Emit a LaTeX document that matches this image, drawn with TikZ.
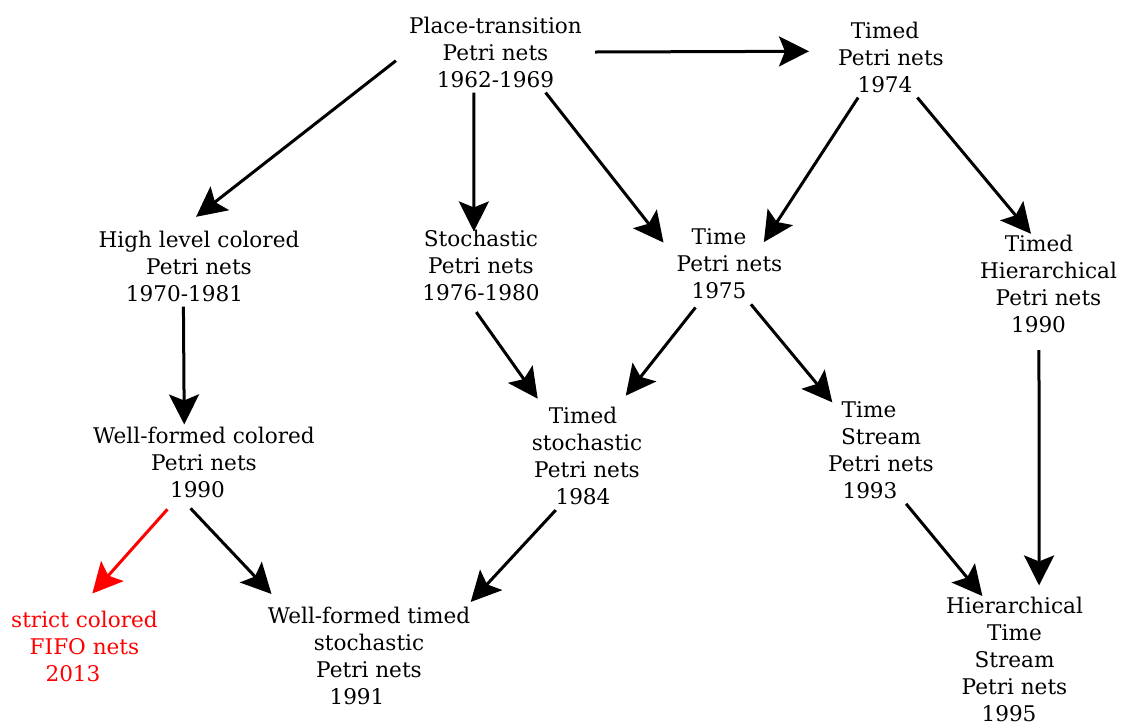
\documentclass[tikz,border=0pt]{standalone}
\usepackage{fontspec}
\setmainfont{DejaVu Serif}
\usetikzlibrary{arrows.meta}
\tikzset{>={Stealth[length=30pt,width=30pt,inset=6pt]}}

\begin{document}
\begin{tikzpicture}[x=1pt,y=-1pt]
  % one pt per pixel of the reference, y grows downwards
  \tikzstyle{every node}=[align=center, font=\fontsize{21.6}{27}\selectfont, inner xsep=13pt, inner ysep=5pt]
  \tikzstyle{every edge}=[black, ->, line width=3pt, draw]
  \useasboundingbox (0,0) rectangle (1122,724);

  \node (PT) at (495.5,52) {Place-transition\\Petri nets\\1962-1969};
  \node (TPN) at (891,57) {Timed\hspace*{12pt}\\Petri nets\\1974\hspace*{12pt}};
  \node (HL) at (199,266) {High level colored\\Petri nets\hspace*{26pt}\\1970-1981\hspace*{29pt}};
  \node (SPN) at (481,265) {Stochastic\\Petri nets\\1976-1980};
  \node (TiPN) at (729.5,264) {Time\hspace*{21pt}\\Petri nets\\1975\hspace*{21pt}};
  \node (TH) at (1048.5,284) {Timed\hspace*{19pt}\\Hierarchical\\Petri nets\\1990\hspace*{20pt}};
  \node (WFC) at (204,462) {Well-formed colored\\Petri nets\\1990\hspace*{13pt}};
  \node (TS) at (587,456) {Timed\hspace*{8pt}\\stochastic\\Petri nets\\1984\hspace*{8pt}};
  \node (TSt) at (881,450) {Time\hspace*{24pt}\\Stream\hspace*{26pt}\\Petri nets\\1993\hspace*{22pt}};
  \node[text=red] (SCF) at (84.5,646) {strict colored\\FIFO nets\hspace*{9pt}\\2013\hspace*{23pt}};
  \node (WFT) at (369,656) {Well-formed timed\\stochastic\hspace*{8pt}\\Petri nets\hspace*{14pt}\\1991\hspace*{24pt}};
  \node (HTS) at (1014.5,659) {Hierarchical\\Time\hspace*{11pt}\\Stream\hspace*{16pt}\\Petri nets\hspace*{4pt}\\1995\hspace*{11pt}};

  \draw (PT.0) edge[shorten >=16pt] (TPN.175.8);
  \draw (PT.185.8) edge[shorten >=14pt] (HL.109.4);
  \draw (PT.242.1) edge[shorten >=-7pt] (SPN.100.7);
  \draw (PT.-39) edge (TiPN.162.7);
  \draw (TPN.231.6) edge[shorten >=-22pt] (TiPN.41.7);
  \draw (TPN.-57.3) edge[shorten >=-5pt] (TH.111.4);
  \draw (HL.249.4) edge[shorten >=-3pt] (WFC.116.3);
  \draw (SPN.257.3) edge[shorten <=8pt, shorten >=4pt] (TS.131.7);
  \draw (TiPN.232.4) edge[shorten <=4pt, shorten >=8pt] (TS.58.7);
  \draw (TiPN.-62.2) edge[shorten >=-8pt] (TSt.135.5);
  \draw (TH.260.4) edge[shorten <=12pt, shorten >=6pt] (HTS.70.6);
  \draw (WFC.233.9) edge[red, shorten <=9pt, shorten >=16pt] (SCF.94.2);
  \draw (WFC.245.7) edge[shorten <=8pt, shorten >=11pt] (WFT.149.1);
  \draw (TS.240.3) edge (WFT.28.8);
  \draw (TSt.-65.3) edge[shorten >=-6pt] (HTS.118.8);
\end{tikzpicture}
\end{document}
